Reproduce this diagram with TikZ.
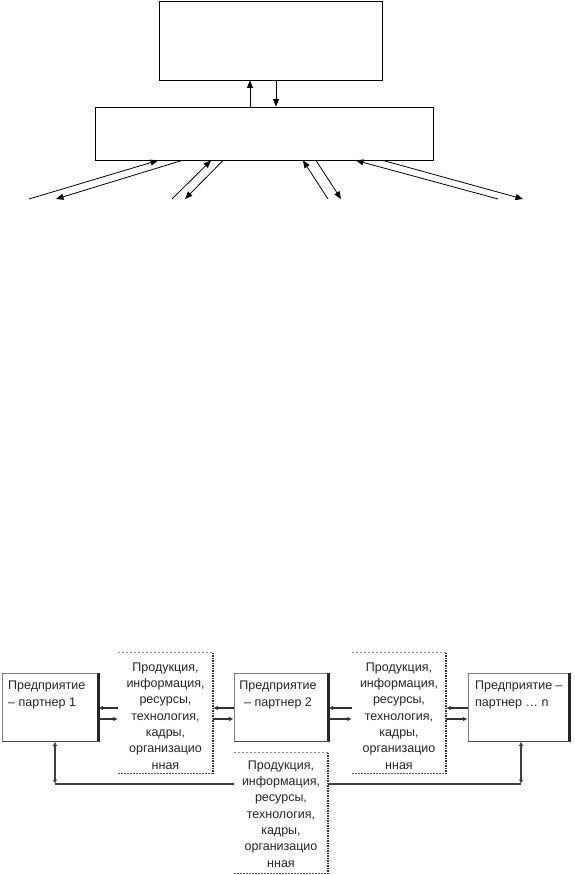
\documentclass[tikz,border=0pt]{standalone}
\usepackage{fontspec}
\setmainfont{Liberation Sans}
\usetikzlibrary{arrows.meta,calc}
\begin{document}
\begin{tikzpicture}[x=1pt,y=-1pt,
  box/.style={draw=black, line width=0.9pt, inner sep=0pt},
  arr/.style={draw=black, line width=0.8pt, -{Triangle[length=7.5pt,width=6pt]}},
  pbox/.style={draw=black!50, line width=1pt, inner sep=0pt, minimum height=68pt},
  pright/.style={draw=black!85, line width=2.4pt},
  pbottom/.style={draw=black!70, line width=1.4pt},
  ptext/.style={font=\fontsize{12.5}{16.3}\selectfont, text=black!85, inner sep=0pt, align=left, anchor=west},
  dbox/.style={inner sep=0pt, minimum height=120pt},
  dtext/.style={font=\fontsize{12.5}{16.3}\selectfont, text=black!85, inner sep=0pt, align=center},
  dtop/.style={draw=black!45, line width=0.8pt, dash pattern=on 2.5pt off 1.5pt},
  dright/.style={draw=black!80, line width=2.5pt, dash pattern=on 1.5pt off 1pt},
  dbottom/.style={draw=black!65, line width=1.3pt, dash pattern=on 2pt off 1pt},
  parr/.style={draw=black!80, line width=1.2pt, -{Latex[length=4.5pt,width=4.5pt]}},
  varr/.style={draw=black!75, line width=1.2pt, {Latex[length=4.5pt,width=4.5pt]}-{Latex[length=4.5pt,width=4.5pt]}},
  hline/.style={draw=black!75, line width=1.2pt},
]
\fill[white] (0,0) rectangle (574,875);
\useasboundingbox (0,0) rectangle (574,875);

% ---------- upper scheme ----------
\node[box, minimum width=223pt, minimum height=79pt] (b1) at (270.5,40.5) {};
\node[box, minimum width=338pt, minimum height=53pt] (b2) at (264,133.5) {};

\coordinate (u1) at (250,0);
\coordinate (u2) at (276,0);
\draw[arr] (b2.north -| u1) -- (b1.south -| u1);
\draw[arr] (b1.south -| u2) -- (b2.north -| u2);

\coordinate (s1a) at (158,0);  \coordinate (e1a) at (29,199);
\coordinate (s1b) at (182,0);  \coordinate (e1b) at (56,199);
\coordinate (s2a) at (211,0);  \coordinate (e2a) at (172,199);
\coordinate (s2b) at (223,0);  \coordinate (e2b) at (185,199);
\coordinate (s3a) at (303,0);  \coordinate (e3a) at (328,199);
\coordinate (s3b) at (316,0);  \coordinate (e3b) at (341,199);
\coordinate (s4a) at (356,0);  \coordinate (e4a) at (498,199);
\coordinate (s4b) at (383,0);  \coordinate (e4b) at (523,199);

\draw[arr] (e1a) -- (b2.south -| s1a);
\draw[arr] (b2.south -| s1b) -- (e1b);
\draw[arr] (e2a) -- (b2.south -| s2a);
\draw[arr] (b2.south -| s2b) -- (e2b);
\draw[arr] (e3a) -- (b2.south -| s3a);
\draw[arr] (b2.south -| s3b) -- (e3b);
\draw[arr] (e4a) -- (b2.south -| s4a);
\draw[arr] (b2.south -| s4b) -- (e4b);

% ---------- lower scheme ----------
\node[pbox, minimum width=96pt] (p1) at (50,707) {};
\node[pbox, minimum width=94pt] (p2) at (281,707) {};
\node[pbox, minimum width=101pt] (pn) at (518.5,707) {};
\foreach \p in {p1,p2,pn}{
  \draw[pright] (\p.north east) -- (\p.south east);
  \draw[pbottom] (\p.south west) -- (\p.south east);
}
\node[ptext] (p1t) at (8,695) {Предприятие\\– партнер 1};
\node[ptext, align=center, anchor=center] (p2t) at (278,695) {Предприятие\\– партнер 2};
\node[ptext] (pnt) at (475,695) {Предприятие –\\партнер … n};

\node[dbox, minimum width=95pt] (d1) at (165.5,713) {};
\node[dbox, minimum width=94pt] (d2) at (399,713) {};
\node[dbox, minimum width=94pt] (d3) at (281,813) {};
\foreach \d in {d1,d2,d3}{
  \draw[dtop] (\d.north west) -- (\d.north east);
  \draw[dbottom] (\d.south west) -- (\d.south east);
  \draw[dright] (\d.north east) -- (\d.south east);
}
\node[dtext] (d1t) at (165.5,716) {Продукция,\\информация,\\ресурсы,\\технология,\\кадры,\\организацио\\нная};
\node[dtext] (d2t) at (399,716) {Продукция,\\информация,\\ресурсы,\\технология,\\кадры,\\организацио\\нная};
\node[dtext] (d3t) at (281,814) {Продукция,\\информация,\\ресурсы,\\технология,\\кадры,\\организацио\\нная};

\coordinate (ya) at (0,708);
\coordinate (yb) at (0,719);
\draw[parr] (d1.west |- ya) -- (p1.east |- ya);
\draw[parr] (p1.east |- yb) -- (d1.west |- yb);
\draw[parr] (p2.west |- ya) -- (d1.east |- ya);
\draw[parr] (d1.east |- yb) -- (p2.west |- yb);
\draw[parr] (d2.west |- ya) -- (p2.east |- ya);
\draw[parr] (p2.east |- yb) -- (d2.west |- yb);
\draw[parr] (pn.west |- ya) -- (d2.east |- ya);
\draw[parr] (d2.east |- yb) -- (pn.west |- yb);

\coordinate (yl) at (0,784);
\coordinate (vx1) at (55,0);
\coordinate (vx2) at (521,0);
\draw[hline] (vx1 |- yl) -- (d3.west |- yl);
\draw[hline] (d3.east |- yl) -- (vx2 |- yl);
\draw[varr] (p1.south -| vx1) -- (vx1 |- yl);
\draw[varr] (pn.south -| vx2) -- (vx2 |- yl);
\end{tikzpicture}
\end{document}
